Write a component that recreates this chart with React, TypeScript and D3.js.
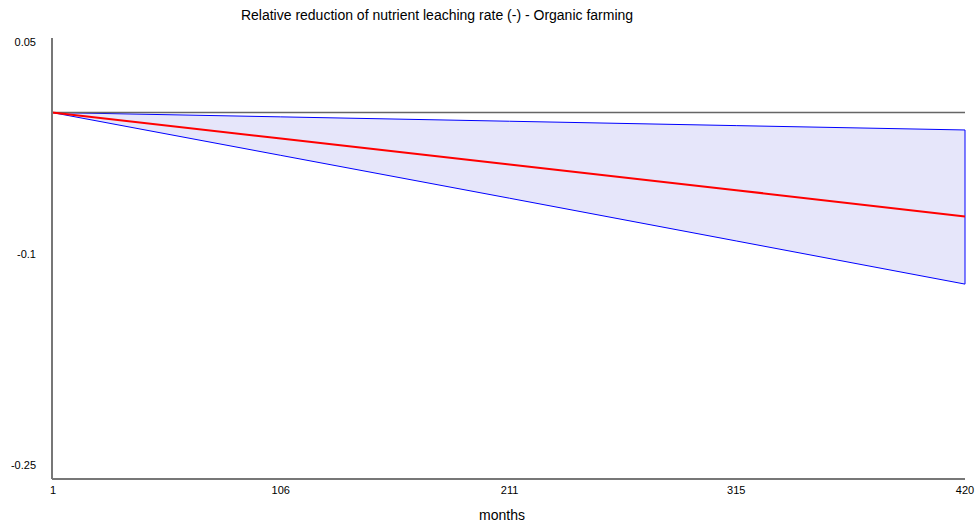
import React from "react";
import * as d3 from "d3";

const months = [1, 106, 211, 315, 420];
const meanValues = [0, -0.0184, -0.0368, -0.0551, -0.0737];
const upperValues = [0, -0.0031, -0.0062, -0.0093, -0.0124];
const lowerValues = [0, -0.0304, -0.0608, -0.0911, -0.1217];
const xTicks = [1, 106, 211, 315, 420];
const yTicks = [0.05, -0.1, -0.25];
const title = "Relative reduction of nutrient leaching rate (-) - Organic farming";
const xLabel = "months";

const W = 975;
const H = 529;
const left = 52;
const right = 965;
const font = "Liberation Sans, Arial, Helvetica, sans-serif";

export default function App() {
  const x = d3.scaleLinear().domain([1, 420]).range([left, right]);
  const y = d3.scaleLinear().domain([0.05, -0.25]).range([42, 465]);
  const axisTop = 38;
  const axisBottom = 479;

  const rows = months.map((m, i) => ({
    m,
    mean: meanValues[i],
    up: upperValues[i],
    lo: lowerValues[i],
  }));

  const area = d3
    .area<(typeof rows)[number]>()
    .x((d) => x(d.m))
    .y0((d) => y(d.lo))
    .y1((d) => y(d.up));
  const areaPath = area(rows) + "";
  const line = d3
    .line<(typeof rows)[number]>()
    .x((d) => x(d.m))
    .y((d) => y(d.mean));

  return (
    <svg
      width={W}
      height={H}
      style={{ position: "absolute", left: 0, top: 0, display: "block" }}
    >
      <rect x={0} y={0} width={W} height={H} fill="#fff" />
      <text
        x={437}
        y={20}
        textAnchor="middle"
        fontFamily={font}
        fontSize={14}
        fill="#000"
      >
        {title}
      </text>
      <path d={areaPath} fill="#e6e6fa" stroke="none" />
      <path
        d={areaPath.replace(/Z$/, "") + "Z"}
        fill="none"
        stroke="#0000ff"
        strokeWidth={1}
      />
      <line
        x1={x(1)}
        x2={x(420)}
        y1={y(0)}
        y2={y(0)}
        stroke="#666"
        strokeWidth={1.5}
      />
      <path d={line(rows) + ""} fill="none" stroke="#ff0000" strokeWidth={2} />
      <line
        x1={left}
        x2={left}
        y1={axisTop}
        y2={axisBottom}
        stroke="#777"
        strokeWidth={2}
      />
      <line
        x1={left}
        x2={right}
        y1={axisBottom}
        y2={axisBottom}
        stroke="#777"
        strokeWidth={2}
      />
      {yTicks.map((t) => (
        <text
          key={t}
          x={36}
          y={y(t) + 4}
          textAnchor="end"
          fontFamily={font}
          fontSize={11}
          fill="#000"
        >
          {String(t)}
        </text>
      ))}
      {xTicks.map((t) => (
        <text
          key={t}
          x={x(t) + (t === 1 ? 1 : 0)}
          y={494}
          textAnchor="middle"
          fontFamily={font}
          fontSize={11}
          fill="#000"
        >
          {String(t)}
        </text>
      ))}
      <text
        x={502}
        y={520}
        textAnchor="middle"
        fontFamily={font}
        fontSize={14}
        fill="#000"
      >
        {xLabel}
      </text>
    </svg>
  );
}
